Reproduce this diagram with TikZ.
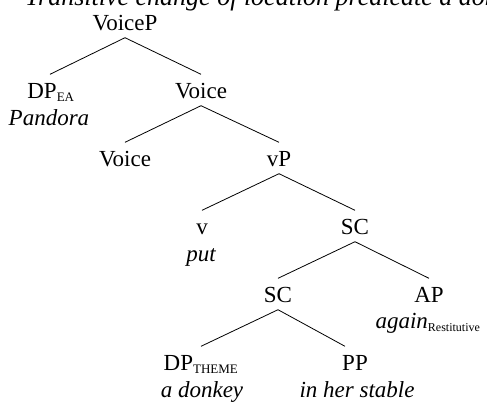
\documentclass[tikz,border=0pt]{standalone}
\usepackage{fontspec}
\setmainfont{Liberation Serif}
\newcommand{\catsub}[1]{\textsubscript{\fontsize{13}{13}\selectfont #1}}
\begin{document}
\begin{tikzpicture}[x=1pt,y=-1pt,
  cat/.style={anchor=base, inner xsep=1pt, inner ysep=7.5pt, text height=16pt, text depth=0pt, font=\fontsize{23}{27}\selectfont},
  word/.style={anchor=base, inner sep=0pt, font=\fontsize{23}{27}\selectfont\itshape},
  branch/.style={line width=0.8pt, black}]
\useasboundingbox (0,0) rectangle (487,402);
\fill[white] (0,0) rectangle (487,402);
\clip (0,0) rectangle (487,402);
\node[anchor=base west, inner sep=0pt, font=\fontsize{26}{30}\selectfont\itshape] (title) at (25,5) {Transitive change of location predicate a donkey};
\node[cat] (voicep) at (125,30) {VoiceP};
\node[cat] (dpea) at (51,98) {DP\catsub{EA}};
\node[word] (pandora) at (49,125) {Pandora};
\node[cat] (voicea) at (201,98) {Voice};
\node[cat] (voiceb) at (125,166) {Voice};
\node[cat] (vp) at (279,166) {vP};
\node[cat] (v) at (202,234) {v};
\node[word] (put) at (201,261) {put};
\node[cat] (sca) at (355,234) {SC};
\node[cat] (scb) at (278,302) {SC};
\node[cat] (ap) at (429,302) {AP};
\node[word] (again) at (428,328) {again\textsubscript{\upshape\fontsize{12}{12}\selectfont Restitutive}};
\node[cat] (dpth) at (201,370) {DP\catsub{THEME}};
\node[word] (donkey) at (202,397) {a donkey};
\node[cat] (pp) at (355,370) {PP};
\node[word] (stable) at (357,397) {in her stable};
\draw[branch] (voicep.south) -- ([xshift=-1pt]dpea.north);
\draw[branch] (voicep.south) -- (voicea.north);
\draw[branch] (voicea.south) -- (voiceb.north);
\draw[branch] (voicea.south) -- (vp.north);
\draw[branch] (vp.south) -- (v.north);
\draw[branch] (vp.south) -- (sca.north);
\draw[branch] (sca.south) -- (scb.north);
\draw[branch] (sca.south) -- (ap.north);
\draw[branch] (scb.south) -- (dpth.north);
\draw[branch] (scb.south) -- ([xshift=-10pt]pp.north);
\end{tikzpicture}
\end{document}
